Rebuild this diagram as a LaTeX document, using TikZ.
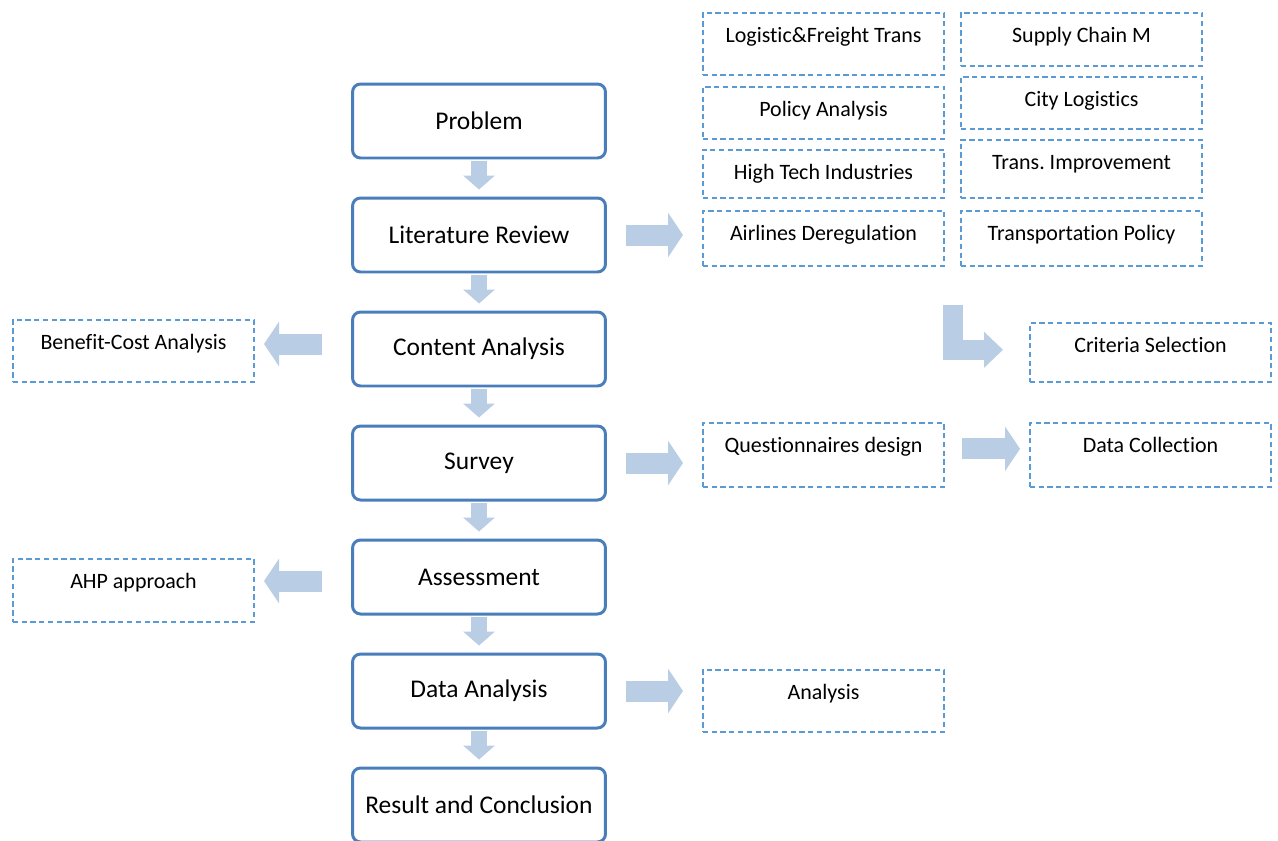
\documentclass[tikz,border=0pt]{standalone}
\usepackage{fontspec}
\setmainfont{Carlito}[Ligatures={NoCommon}]
\usetikzlibrary{arrows.meta}
\definecolor{stepblue}{RGB}{74,126,187}
\definecolor{arrowblue}{RGB}{185,205,229}
\definecolor{dashblue}{RGB}{91,155,213}
\begin{document}
\begin{tikzpicture}[x=0.02cm, y=-0.02cm]
\tikzstyle{stepbox}=[draw=stepblue, line width=1.7pt, rounded corners=0.16cm, fill=white, minimum width=5.06cm, minimum height=1.48cm, font=\fontsize{14.5}{17}\selectfont]
\tikzstyle{topicbox}=[draw=dashblue, line width=0.9pt, dash pattern=on 3pt off 2pt, anchor=north west, inner sep=0pt, minimum width=4.83cm, text height=0.6cm, font=\fontsize{12.5}{15}\selectfont]
\tikzstyle{downarr}=[draw=arrowblue, line width=0.32cm, -{Triangle[length=0.28cm, width=0.62cm]}]
\tikzstyle{sidearr}=[draw=arrowblue, line width=0.42cm, -{Triangle[length=0.3cm, width=0.88cm]}]
\tikzstyle{bentarr}=[draw=arrowblue, line width=0.4cm, line join=miter, -{Triangle[length=0.38cm, width=0.7cm]}]
\useasboundingbox (0,0) rectangle (1278,840);
% main steps
\node[stepbox] (m1) at (479,121) {Problem};
\node[stepbox] (m2) at (479,235) {Literature Review};
\node[stepbox] (m3) at (479,349) {Content Analysis};
\node[stepbox] (m4) at (479,463) {Survey};
\node[stepbox] (m5) at (479,577) {Assessment};
\node[stepbox] (m6) at (479,691) {Data Analysis};
\node[stepbox] (m7) at (479,805) {Result and Conclusion};
% review topics
\node[topicbox, text depth=0.64cm] (r1) at (702,12) {Logistic\&Freight Trans};
\node[topicbox, text depth=0.46cm] (r2) at (960,12) {Supply Chain M};
\node[topicbox, text depth=0.44cm] (r3) at (702,86) {Policy Analysis};
\node[topicbox, text depth=0.44cm] (r4) at (960,76) {City Logistics};
\node[topicbox, text depth=0.36cm] (r5) at (702,149) {High Tech Industries};
\node[topicbox, text depth=0.56cm] (r6) at (960,139) {Trans.\ Improvement};
\node[topicbox, text depth=0.5cm] (r7) at (702,210) {Airlines Deregulation};
\node[topicbox, text depth=0.5cm] (r8) at (960,210) {Transportation Policy};
% side boxes
\node[topicbox, text depth=0.64cm] (bc) at (12,319) {Benefit-Cost Analysis};
\node[topicbox, text depth=0.58cm] (cs) at (1029,322) {Criteria Selection};
\node[topicbox, text depth=0.68cm] (qd) at (702,422) {Questionnaires design};
\node[topicbox, text depth=0.68cm] (dc) at (1029,422) {Data Collection};
\node[topicbox, text depth=0.66cm] (ahp) at (12,558) {AHP approach};
\node[topicbox, text depth=0.64cm] (an) at (702,669) {Analysis};
% arrows
\foreach \a/\b in {m1/m2, m2/m3, m3/m4, m4/m5, m5/m6, m6/m7}
  \draw[downarr] ([yshift=-0.8pt]\a.south) -- ([yshift=0.14cm]\b.north);
\draw[sidearr] ([xshift=0.39cm]m2.east) -- ([xshift=-0.38cm]m2.east -| r7.west);
\draw[sidearr] ([xshift=0.39cm]m4.east) -- ([xshift=-0.38cm]m4.east -| qd.west);
\draw[sidearr] ([xshift=0.39cm]m6.east) -- ([xshift=-0.38cm]m6.east -| an.west);
\draw[sidearr] ([xshift=0.34cm,yshift=0.12cm]qd.east) -- ([xshift=-0.18cm,yshift=0.12cm]qd.east -| dc.west);
\draw[sidearr] ([xshift=-0.59cm,yshift=0.1cm]m3.west) -- ([xshift=0.18cm,yshift=0.1cm]m3.west -| bc.east);
\draw[sidearr] ([xshift=-0.59cm,yshift=-0.08cm]m5.west) -- ([xshift=0.18cm,yshift=-0.08cm]m5.west -| ahp.east);
\draw[bentarr] ([xshift=-0.14cm,yshift=-0.76cm]r8.south west) |- ([xshift=-0.52cm,yshift=0.05cm]cs.west);
\end{tikzpicture}
\end{document}
